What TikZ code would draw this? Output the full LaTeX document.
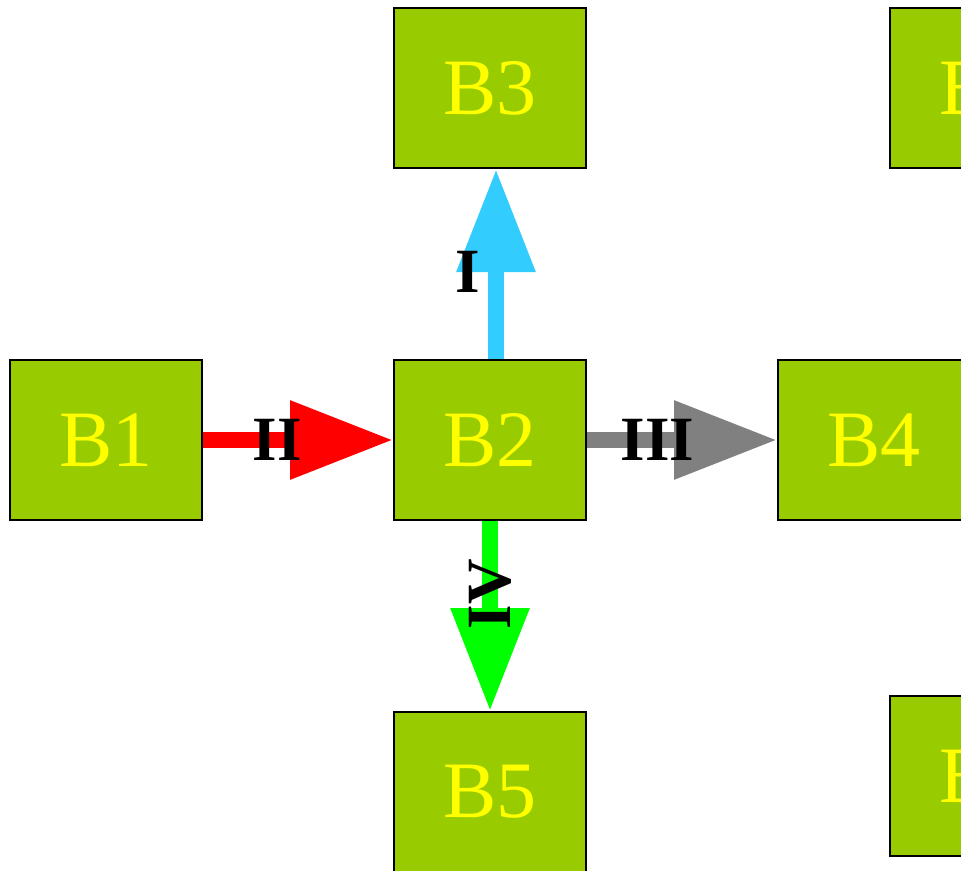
\documentclass[tikz,border=0pt]{standalone}
\usepackage{fontspec}
\setmainfont{Liberation Serif}
\usepackage{tikz}
\usetikzlibrary{positioning,arrows.meta}
\definecolor{boxgreen}{HTML}{99CC00}
\definecolor{boxtext}{HTML}{FFFF00}
\definecolor{flowred}{HTML}{FF0000}
\definecolor{flowcyan}{HTML}{33CCFF}
\definecolor{flowgray}{HTML}{808080}
\definecolor{flowgreen}{HTML}{00FF00}

\begin{document}
\begin{tikzpicture}[x=1pt,y=-1pt,
  block/.style={rectangle,draw=black,line width=2pt,fill=boxgreen,
               minimum width=192pt,minimum height=160pt,inner sep=0pt,
               text=boxtext,font=\fontsize{80}{96}\selectfont},
  flow/.style={line width=16pt,-{Triangle[length=103pt,width=75pt]}},
  tag/.style={font=\fontsize{63}{76}\selectfont\bfseries,text=black,inner sep=0pt},
]
\useasboundingbox (0,0) rectangle (961,870);
\clip (0,0) rectangle (961,870);

\node[block] (b2) at (490,440) {B2};
\node[block,left=190pt of b2] (b1) {B1};
\node[block,above=190pt of b2] (b3) {B3};
\node[block,right=190pt of b2] (b4) {B4};
\node[block,below=190pt of b2] (b5) {B5};
\node[block] (b6) at (986,88) {B6};
\node[block] (b7) at (986,776) {B7};

\draw[flow,flowcyan] ([xshift=6pt]b2.north) -- ([xshift=6pt]b3.south)
  node[tag,pos=0.46,left=8pt] {I};
\draw[flow,flowred] (b1) -- (b2) node[tag,pos=0.39] {II};
\draw[flow,flowgray] (b2) -- (b4) node[tag,pos=0.37] {III};
\draw[flow,flowgreen] (b2) -- (b5) node[tag,pos=0.385,rotate=90] {IV};
\end{tikzpicture}
\end{document}
